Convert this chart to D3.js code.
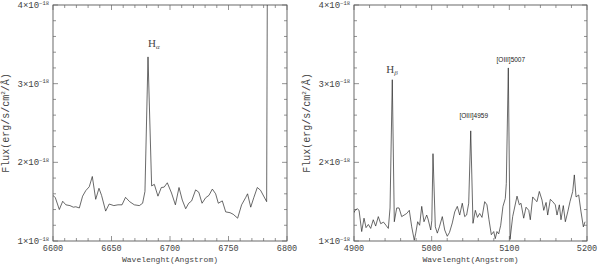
<!DOCTYPE html>
<html>
<head>
<meta charset="utf-8">
<script src="https://cdn.jsdelivr.net/npm/d3@7"></script>
<style>
  body { margin: 0; background: #fff; }
  svg text { fill: #444; }
</style>
</head>
<body>
<svg width="600" height="266"></svg>
<script>
// H-alpha region (flux in units of 1e-18)
const haWave = [6600, 6602, 6605.4, 6608.3, 6611, 6614.5, 6617.4, 6619.5, 6622.5, 6625.3, 6628, 6631, 6633.6, 6636.5,
  6639.3, 6641.5, 6645, 6648, 6652, 6655.5, 6659, 6662, 6665.5, 6669.5, 6673.8, 6676.6, 6678.6, 6681.2, 6684.3,
  6686.6, 6689.7, 6692.6, 6695, 6697.7, 6701.3, 6704.6, 6707.7, 6710.5, 6713.4, 6716, 6718.5, 6721.9, 6724.6,
  6727.4, 6730.5, 6733.3, 6736.2, 6739, 6741.3, 6744.7, 6747.6, 6751.3, 6754, 6757.8, 6761.2, 6764.6, 6766.3,
  6769, 6771.6, 6774.6, 6777.4, 6782.6, 6783.2];
const haFlux = [1.58, 1.55, 1.40, 1.505, 1.46, 1.45, 1.43, 1.435, 1.42, 1.57, 1.64, 1.69, 1.82, 1.53,
  1.67, 1.58, 1.38, 1.47, 1.45, 1.46, 1.46, 1.555, 1.50, 1.46, 1.45, 1.48, 1.63, 3.34, 1.70,
  1.72, 1.57, 1.68, 1.685, 1.74, 1.61, 1.46, 1.68, 1.52, 1.41, 1.48, 1.51, 1.65, 1.62,
  1.48, 1.55, 1.58, 1.66, 1.60, 1.48, 1.51, 1.37, 1.36, 1.34, 1.29, 1.46, 1.55, 1.60,
  1.43, 1.55, 1.68, 1.645, 1.50, 4.3];

// H-beta / [OIII] region
const hbWave = [4900, 4901.3, 4904.2, 4906.5, 4909.9, 4912.9, 4915.5, 4918.5, 4921.5, 4924.8, 4927.9, 4931.3,
  4934.4, 4938, 4941.2, 4944.2, 4946.4, 4949.3, 4951.9, 4955, 4958, 4961.4, 4967.9, 4971.2, 4974.3, 4977.6,
  4979.5, 4982, 4984.5, 4987.2, 4990.1, 4993.6, 4995.3, 4998.8, 5000.2, 5001.7, 5004.7, 5007.3, 5010, 5013.7,
  5016.8, 5020.1, 5023, 5026.6, 5029.7, 5033, 5036.1, 5039.4, 5042.5, 5045, 5047.7, 5050.3, 5053.2, 5056.2,
  5059, 5061.8, 5064.8, 5068.3, 5071.2, 5073.8, 5076.8, 5079.9, 5081.9, 5084.1, 5086.3, 5088.9, 5091.8,
  5094.8, 5096.1, 5098.7, 5100.9, 5104.3, 5109.9, 5112.9, 5115, 5118.5, 5121.5, 5125, 5127, 5130.1, 5133.4,
  5135.6, 5138.6, 5142.1, 5144.3, 5147.3, 5149.4, 5152.8, 5155.9, 5159.2, 5161.4, 5164.4, 5166.5, 5169.5,
  5172.1, 5175.2, 5178.1, 5181.6, 5183.7, 5185.9, 5189.3, 5192.3, 5195.3, 5197.5, 5200];
const hbFlux = [1.36, 1.39, 1.41, 1.39, 1.12, 1.29, 1.17, 1.21, 1.16, 1.27, 1.19, 1.31,
  1.22, 1.24, 1.20, 1.16, 1.42, 3.05, 1.245, 1.42, 1.42, 1.31, 1.35, 1.39, 1.18, 1.01,
  1.10, 1.245, 1.20, 1.44, 1.245, 1.33, 1.28, 1.14, 1.26, 2.11, 1.18, 1.10, 1.18, 1.31,
  1.14, 1.06, 1.11, 1.23, 1.37, 1.44, 1.33, 1.48, 1.31, 1.33, 1.48, 2.40, 1.225, 1.39,
  1.30, 1.35, 1.30, 1.50, 1.46, 1.27, 1.08, 1.12, 1.03, 1.12, 1.09, 1.20, 1.44,
  1.54, 1.73, 3.20, 1.02, 1.31, 1.57, 1.46, 1.48, 1.29, 1.43, 1.39, 1.27, 1.56, 1.52,
  1.50, 1.63, 1.52, 1.39, 1.49, 1.33, 1.53, 1.50, 1.46, 1.33, 1.46, 1.27, 1.45,
  1.245, 1.37, 1.50, 1.63, 1.84, 1.56, 1.585, 1.37, 1.18, 1.245];

const yTicks = [1, 2, 3, 4];
const haTicks = [6600, 6650, 6700, 6750, 6800];
const hbTicks = [4900, 5000, 5100, 5200];

const haLines = [{ wave: 6681.2, flux: 3.34, name: "H", sub: "α" }];
const hbLines = [
  { wave: 4949.3, flux: 3.05, name: "H", sub: "β" },
  { wave: 5050.3, flux: 2.40, name: "[OIII]4959" },
  { wave: 5098.7, flux: 3.20, name: "[OIII]5007" }
];

const svg = d3.select("svg");
const mono = "'Liberation Mono', monospace";

function drawPanel(left, right, domain, wave, flux, ticks, minorStep, lines, id) {
  const top = 5, bottom = 241;
  const x = d3.scaleLinear().domain(domain).range([left, right]);
  const y = d3.scaleLinear().domain([1, 4]).range([bottom, top]);
  const g = svg.append("g");

  g.append("clipPath").attr("id", id).append("rect")
    .attr("x", left).attr("y", top).attr("width", right - left).attr("height", bottom - top);

  // frame
  g.append("rect").attr("x", left).attr("y", top).attr("width", right - left).attr("height", bottom - top)
    .attr("fill", "none").attr("stroke", "#444").attr("stroke-width", 0.8);

  // ticks, inward on all sides
  const minorX = d3.range(domain[0], domain[1] + 0.01, minorStep);
  const minorY = d3.range(1, 4.01, 0.2);
  const tk = g.append("g").attr("stroke", "#666").attr("stroke-width", 0.7);
  minorX.forEach(v => {
    const len = ticks.includes(Math.round(v)) ? 5 : 3;
    tk.append("line").attr("x1", x(v)).attr("x2", x(v)).attr("y1", bottom).attr("y2", bottom - len);
    tk.append("line").attr("x1", x(v)).attr("x2", x(v)).attr("y1", top).attr("y2", top + len);
  });
  minorY.forEach(v => {
    const len = Math.abs(v - Math.round(v)) < 0.01 ? 5 : 3;
    tk.append("line").attr("x1", left).attr("x2", left + len).attr("y1", y(v)).attr("y2", y(v));
    tk.append("line").attr("x1", right).attr("x2", right - len).attr("y1", y(v)).attr("y2", y(v));
  });

  // tick labels
  g.selectAll(".xl").data(ticks).enter().append("text")
    .attr("x", d => x(d)).attr("y", 251).attr("text-anchor", "middle")
    .style("font-family", mono).style("font-size", "8.5px").text(d => d);

  yTicks.forEach(v => {
    const t = g.append("text").attr("x", left - 4).attr("y", y(v) + 3)
      .attr("text-anchor", "end").style("font-family", mono).style("font-size", "9px");
    t.append("tspan").text(v + "×10");
    t.append("tspan").style("font-size", "5.5px").attr("dy", -3.5).text("−18");
  });

  // axis titles
  g.append("text").attr("x", (left + right) / 2).attr("y", 262).attr("text-anchor", "middle")
    .style("font-family", mono).style("font-size", "8px").text("Wavelenght(Angstrom)");
  const yl = g.append("text")
    .attr("transform", `translate(${left - 44},${(top + bottom) / 2}) rotate(-90)`)
    .attr("text-anchor", "middle").style("font-family", mono).style("font-size", "10px");
  yl.append("tspan").text("Flux(erg/s/cm");
  yl.append("tspan").style("font-size", "6px").attr("dy", -4).text("2");
  yl.append("tspan").attr("dy", 4).text("/Å)");

  // spectrum
  const pts = wave.map((w, i) => [w, flux[i]]);
  g.append("path").datum(pts)
    .attr("clip-path", `url(#${id})`)
    .attr("fill", "none").attr("stroke", "#2a2a2a").attr("stroke-width", 0.7)
    .attr("d", d3.line().x(d => x(d[0])).y(d => y(d[1])));

  // line labels
  lines.forEach(l => {
    if (l.sub) {
      const dx = l.sub === "α" ? 0 : -6;
      const dy = l.sub === "α" ? 10 : 7;
      const t = g.append("text").attr("x", x(l.wave) + dx).attr("y", y(l.flux) - dy)
        .style("font-family", "'Liberation Serif', serif").style("font-size", "11px");
      t.append("tspan").text(l.name);
      t.append("tspan").style("font-size", "7px").style("font-style", "italic").attr("dy", 2.5).text(l.sub);
    } else {
      const dy = l.name.endsWith("4959") ? 13 : 6;
      const dx = l.name.endsWith("4959") ? 3 : 2.5;
      g.append("text").attr("x", x(l.wave) + dx).attr("y", y(l.flux) - dy)
        .attr("text-anchor", "middle").style("font-family", "'Liberation Sans', sans-serif")
        .style("font-size", "6.5px").style("fill", "#222").text(l.name);
    }
  });
}

drawPanel(53, 287, [6600, 6800], haWave, haFlux, haTicks, 10, haLines, "clipA");
drawPanel(354, 587, [4900, 5200], hbWave, hbFlux, hbTicks, 20, hbLines, "clipB");
</script>
</body>
</html>
